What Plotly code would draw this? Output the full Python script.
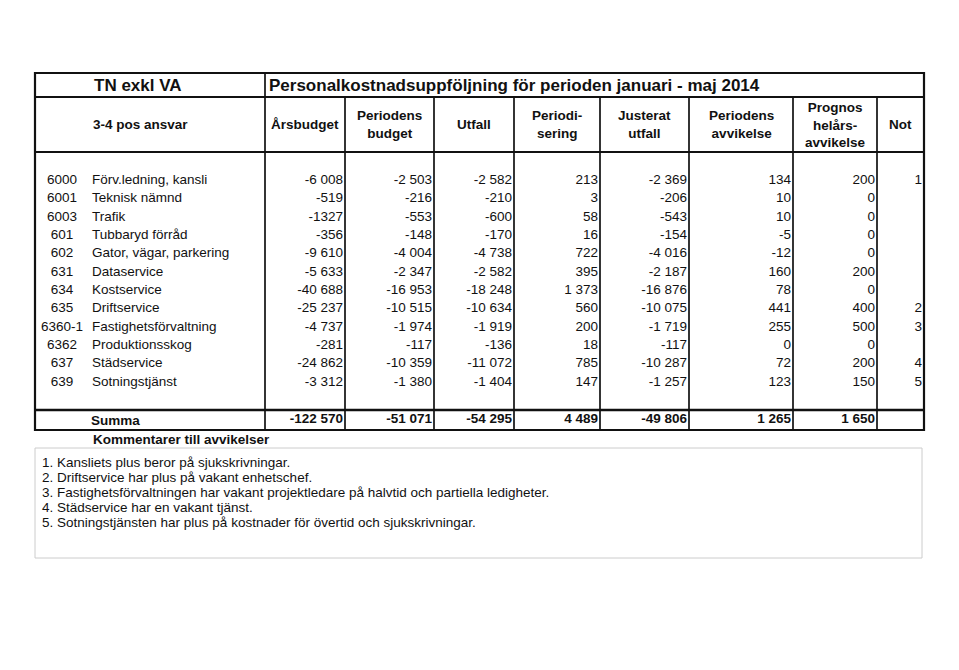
import plotly.graph_objects as go

# ---------------- data ----------------
codes = ["6000", "6001", "6003", "601", "602", "631", "634", "635", "6360-1", "6362", "637", "639"]
names = ["Förv.ledning, kansli", "Teknisk nämnd", "Trafik", "Tubbaryd förråd",
         "Gator, vägar, parkering", "Dataservice", "Kostservice", "Driftservice",
         "Fastighetsförvaltning", "Produktionsskog", "Städservice", "Sotningstjänst"]
arsbudget = [-6008, -519, -1327, -356, -9610, -5633, -40688, -25237, -4737, -281, -24862, -3312]
periodens_budget = [-2503, -216, -553, -148, -4004, -2347, -16953, -10515, -1974, -117, -10359, -1380]
utfall = [-2582, -210, -600, -170, -4738, -2582, -18248, -10634, -1919, -136, -11072, -1404]
periodisering = [213, 3, 58, 16, 722, 395, 1373, 560, 200, 18, 785, 147]
justerat_utfall = [-2369, -206, -543, -154, -4016, -2187, -16876, -10075, -1719, -117, -10287, -1257]
periodens_avvikelse = [134, 10, 10, -5, -12, 160, 78, 441, 255, 0, 72, 123]
prognos = [200, 0, 0, 0, 0, 200, 0, 400, 500, 0, 200, 150]
noter = ["1", "", "", "", "", "", "", "2", "3", "", "4", "5"]
summa = [-122570, -51071, -54295, 4489, -49806, 1265, 1650]
# cells printed without thousands grouping in the source (column, row)
ungrouped = {(0, 2)}

title_left = "TN exkl VA"
title_right = "Personalkostnadsuppföljning för perioden januari - maj 2014"
headers = ["3-4 pos ansvar", "Årsbudget", "Periodens<br>budget", "Utfall", "Periodi-<br>sering",
           "Justerat<br>utfall", "Periodens<br>avvikelse", "Prognos<br>helårs-<br>avvikelse", "Not"]
summa_label = "Summa"
comments_title = "Kommentarer till avvikelser"
comments = [
    "1. Kansliets plus beror på sjukskrivningar.",
    "2. Driftservice har plus på vakant enhetschef.",
    "3. Fastighetsförvaltningen har vakant projektledare på halvtid och partiella ledigheter.",
    "4. Städservice har en vakant tjänst.",
    "5. Sotningstjänsten har plus på kostnader för övertid och sjukskrivningar.",
]

# ---------------- layout constants (page pixel units) ----------------
W, H = 959, 670
OFF = 8  # default page margin around the plot
FONT = "Liberation Sans, Arial, sans-serif"
INK = "#111111"
col_edges = [35, 265, 345, 434, 514, 600, 689, 793, 877, 924]
top, title_bot, head_bot, data_bot, sum_bot = 73, 97, 152, 410, 430
row0, row_step = 180.5, 18.35
pad = 2
DATA_SIZE = 13.5


def fmt(v, grouped=True):
    s = f"{abs(v):,}" if grouped else f"{abs(v)}"
    s = s.replace(",", " ")
    return ("-" if v < 0 else "") + s


fig = go.Figure()

num_cols = [arsbudget, periodens_budget, utfall, periodisering, justerat_utfall,
            periodens_avvikelse, prognos]
row_y = [row0 + i * row_step for i in range(len(codes))]

for ci, col in enumerate(num_cols):
    x_right = col_edges[ci + 2] - pad
    fig.add_trace(go.Scatter(
        x=[x_right] * len(col), y=row_y, mode="text",
        text=[fmt(v, (ci, ri) not in ungrouped) for ri, v in enumerate(col)],
        textposition="middle left",
        textfont=dict(family=FONT, size=DATA_SIZE, color=INK),
        hoverinfo="skip", showlegend=False))

fig.add_trace(go.Scatter(
    x=[col_edges[9] - pad] * len(noter), y=row_y, mode="text", text=noter,
    textposition="middle left", textfont=dict(family=FONT, size=DATA_SIZE, color=INK),
    hoverinfo="skip", showlegend=False))

fig.add_trace(go.Scatter(
    x=[62] * len(codes), y=row_y, mode="text", text=codes, textposition="middle center",
    textfont=dict(family=FONT, size=DATA_SIZE, color=INK), hoverinfo="skip", showlegend=False))
fig.add_trace(go.Scatter(
    x=[92] * len(names), y=row_y, mode="text", text=names, textposition="middle right",
    textfont=dict(family=FONT, size=DATA_SIZE, color=INK), hoverinfo="skip", showlegend=False))

sum_y = (data_bot + sum_bot) / 2
fig.add_trace(go.Scatter(
    x=[col_edges[i + 2] - pad for i in range(len(summa))], y=[sum_y] * len(summa),
    mode="text", text=[fmt(v) for v in summa], textposition="middle left",
    textfont=dict(family=FONT, size=DATA_SIZE, color=INK, weight="bold"),
    hoverinfo="skip", showlegend=False))

annotations = []
annotations.append(dict(x=138, y=(top + title_bot) / 2, text=f"<b>{title_left}</b>",
                        showarrow=False, font=dict(family=FONT, size=17, color=INK), xanchor="center", yanchor="middle"))
annotations.append(dict(x=col_edges[1] + 2, y=(top + title_bot) / 2, text=f"<b>{title_right}</b>",
                        showarrow=False, font=dict(family=FONT, size=17, color=INK), xanchor="left", yanchor="middle"))
for i, h in enumerate(headers):
    cx = 140 if i == 0 else (col_edges[i] + col_edges[i + 1]) / 2
    annotations.append(dict(x=cx, y=(title_bot + head_bot) / 2,
                            text=f"<b>{h}</b>", showarrow=False, align="center",
                            font=dict(family=FONT, size=13.5, color=INK), xanchor="center", yanchor="middle"))
annotations.append(dict(x=115, y=sum_y, text=f"<b>{summa_label}</b>",
                        showarrow=False, font=dict(family=FONT, size=13.5, color=INK), xanchor="center", yanchor="middle"))
annotations.append(dict(x=91, y=439, text=f"<b>{comments_title}</b>", showarrow=False,
                        font=dict(family=FONT, size=13.5, color=INK), xanchor="left", yanchor="middle"))
for i, c in enumerate(comments):
    annotations.append(dict(x=40, y=462 + i * 15, text=c, showarrow=False,
                            font=dict(family=FONT, size=13.5, color=INK), xanchor="left", yanchor="middle"))

shapes = []
lw = 1.7
shapes.append(dict(type="rect", x0=col_edges[0], x1=col_edges[-1], y0=top, y1=sum_bot,
                   line=dict(color=INK, width=2.2)))
for y, w in [(title_bot, 2), (head_bot, 2), (data_bot, 2.4)]:
    shapes.append(dict(type="line", x0=col_edges[0], x1=col_edges[-1], y0=y, y1=y, line=dict(color=INK, width=w)))
shapes.append(dict(type="line", x0=col_edges[1], x1=col_edges[1], y0=top, y1=sum_bot, line=dict(color=INK, width=lw)))
for x in col_edges[2:-1]:
    shapes.append(dict(type="line", x0=x, x1=x, y0=title_bot, y1=sum_bot, line=dict(color=INK, width=lw)))
shapes.append(dict(type="rect", x0=35, x1=922, y0=448, y1=558, line=dict(color="#cccccc", width=1)))

fig.update_layout(
    width=W, height=H, margin=dict(l=0, r=0, t=0, b=0),
    paper_bgcolor="white", plot_bgcolor="white",
    xaxis=dict(range=[OFF, W + OFF], visible=False, fixedrange=True),
    yaxis=dict(range=[H + OFF, OFF], visible=False, fixedrange=True),
    annotations=annotations, shapes=shapes, showlegend=False,
    font=dict(family=FONT),
)

fig.write_html("out.html")
